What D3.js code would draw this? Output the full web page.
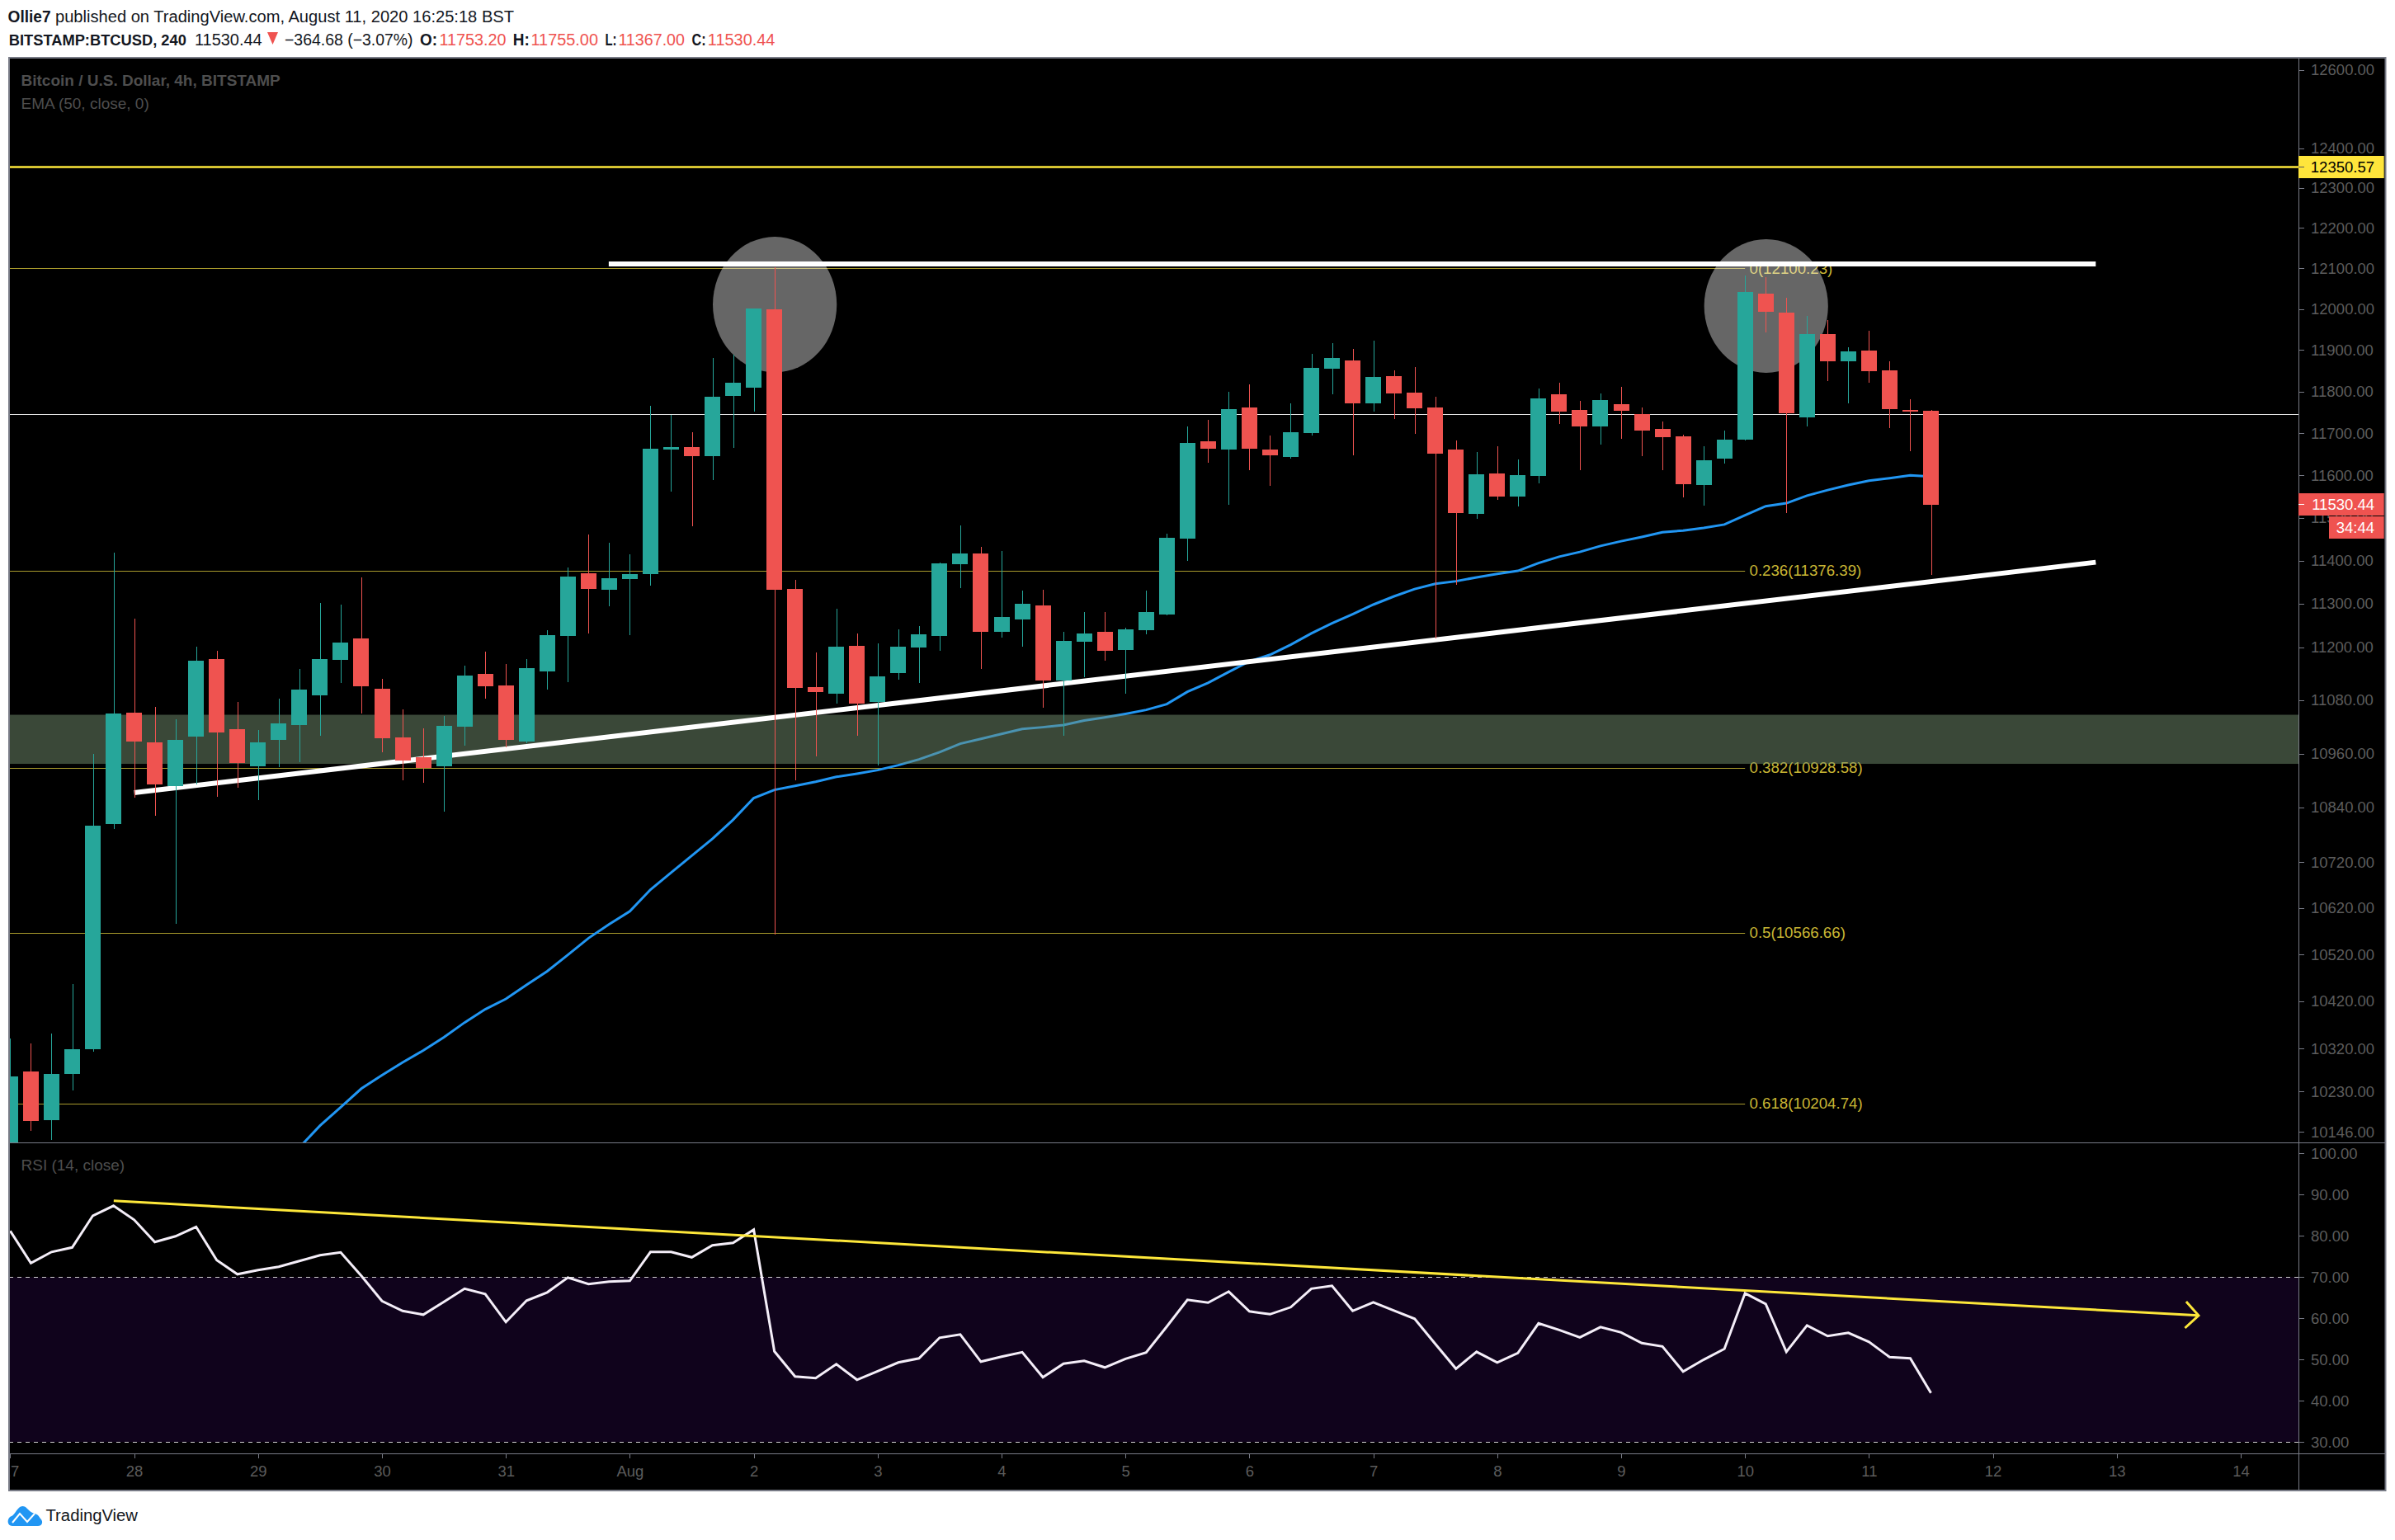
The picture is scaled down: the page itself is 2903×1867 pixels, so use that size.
<!DOCTYPE html>
<html lang="en">
<head>
    <meta charset="UTF-8">
    <title>BTCUSD 4h - TradingView</title>
    <style>
        html, body { margin: 0; padding: 0; background: #fff; overflow: hidden; }
        svg { display: block; }
        text { font-family: "Liberation Sans", sans-serif; }
        .axis text { fill: #5c5c5c; font-size: 18.5px; }
        .axis line, .axis path { stroke: #787b86; stroke-width: 1; shape-rendering: crispEdges; }
    </style>
</head>
<body>
    <svg width="2903" height="1867"></svg>
    <script src="https://d3js.org/d3.v7.min.js"></script>
    <script>
        // 4h candles, first bar is Jul 27 00:00
        const opens = [10110,10272,10171,10267,10319,10804,11052,10985,10888,10998,11173,11015,10932,10991,11024,11091,11172,11221,11106,10996,10952,10932,11021,11140,11114,10987,11146,11226,11371,11333,11357,11369,11661,11667,11646,11789,11809,12000,11334,11110,11095,11204,11075,11142,11200,11226,11392,11417,11236,11263,11297,11125,11213,11236,11194,11240,11276,11452,11681,11661,11762,11661,11644,11701,11855,11875,11771,11837,11797,11761,11660,11509,11605,11550,11599,11793,11755,11716,11770,11746,11710,11693,11577,11640,11685,12038,11991,11738,11939,11873,11899,11851,11755,11753.2];
        const highs = [10342,10331,10351,10457,10960,11419,11266,11065,11037,11202,11192,11075,11013,11084,11151,11302,11298,11361,11129,11060,11017,11045,11159,11190,11162,11173,11240,11384,11461,11442,11415,11766,11744,11703,11881,11889,12002,12103,11355,11189,11289,11232,11209,11242,11249,11396,11482,11432,11423,11331,11333,11236,11280,11281,11245,11331,11463,11716,11732,11799,11817,11695,11771,11891,11917,11903,11923,11851,11859,11787,11683,11656,11669,11638,11807,11821,11777,11795,11811,11762,11728,11697,11669,11707,12083,12079,12028,11983,11973,11907,11947,11873,11781,11755];
        const lows = [10090,10149,10130,10233,10314,10793,10861,10822,10585,10892,10864,10883,10857,10930,10941,11000,11118,11050,10963,10901,10895,10831,10978,11084,10974,10983,11104,11121,11232,11295,11228,11342,11561,11480,11589,11665,11752,10562,10901,10954,11073,11000,10934,11127,11119,11192,11336,11151,11223,11202,11062,11000,11132,11170,11095,11230,11274,11400,11630,11531,11612,11575,11640,11695,11793,11648,11752,11734,11699,11221,11344,11498,11542,11527,11581,11722,11612,11673,11687,11646,11612,11548,11529,11628,11683,11943,11511,11716,11825,11771,11821,11712,11657,11367];
        const closes = [10262,10168,10267,10319,10800,11049,10987,10892,10991,11170,11008,10939,10985,11028,11103,11173,11211,11112,10994,10945,10928,11022,11136,11112,10991,11153,11228,11363,11334,11359,11369,11663,11667,11646,11787,11821,12002,11333,11108,11099,11202,11073,11134,11202,11230,11394,11417,11236,11270,11300,11125,11215,11232,11192,11242,11280,11453,11677,11663,11757,11663,11648,11703,11857,11881,11771,11835,11795,11759,11652,11511,11603,11550,11601,11783,11752,11716,11779,11754,11707,11691,11579,11636,11685,12042,11994,11748,11939,11873,11897,11849,11757,11752,11530.44];

        // EMA 50, the visible part starts at bar 14
        const emaStart = 14;
        const emaValues = [10114,10159,10197,10236,10264,10291,10316,10344,10375,10403,10425,10455,10484,10519,10555,10585,10613,10660,10697,10734,10771,10813,10861,10879,10888,10897,10908,10915,10923,10934,10947,10963,10982,10993,11004,11015,11019,11024,11034,11041,11049,11058,11071,11099,11119,11144,11168,11183,11206,11232,11255,11276,11298,11317,11334,11346,11352,11361,11369,11376,11394,11409,11420,11434,11445,11455,11466,11470,11476,11484,11506,11527,11534,11552,11565,11577,11587,11593,11600,11597];

        // RSI 14
        const rsiValues = [81.2,73.4,76.1,77.2,84.9,87.3,83.9,78.5,79.9,82.2,74.1,70.7,71.7,72.5,73.9,75.3,76.0,70.3,64.2,61.8,60.9,64.0,67.2,65.9,59.1,64.3,66.3,69.9,68.3,68.9,69.1,76.1,76.1,74.8,77.7,78.3,81.5,52.0,45.9,45.5,48.9,45.1,47.2,49.3,50.3,55.3,56.1,49.5,50.7,51.8,45.7,49.0,49.7,48.1,50.2,51.7,58.0,64.5,63.8,66.5,61.7,61.0,62.7,67.2,67.9,61.8,63.9,61.9,59.9,53.8,47.8,51.9,49.3,51.6,58.8,57.2,55.4,57.9,56.6,54.0,53.2,47.1,50.0,52.6,66.1,63.5,51.9,58.3,55.7,56.5,54.3,50.6,50.3,41.9];

        // Axis ticks
        const priceTicks = [12600,12400,12300,12200,12100,12000,11900,11800,11700,11600,11500,11400,11300,11200,11080,10960,10840,10720,10620,10520,10420,10320,10230,10146];
        const rsiTicks = [100,90,80,70,60,50,40,30];
        const dayLabels = ['27','28','29','30','31','Aug','2','3','4','5','6','7','8','9','10','11','12','13','14'];

        // Fibonacci levels
        const fibNames = ['0','0.236','0.382','0.5','0.618'];
        const fibPrices = [12100.23,11376.39,10928.58,10566.66,10204.74];

        // Drawn levels and trendlines, in days from Jul 27 and price
        const resistancePrice = 12350.57;
        const horizontalPrice = 11745.7;
        const zonePrices = [11047,10937];
        const topLineDays = [4.83,16.83];
        const topLinePrices = [12111,12111];
        const riseLineDays = [1.0,16.83];
        const riseLinePrices = [10873,11396];
        const rsiLineDays = [0.835,17.66];
        const rsiLineValues = [88.5,60.7];
        const arrowDays = [17.56,17.66,17.55];
        const arrowValues = [64.06,60.7,57.66];
        const spotDays = [[5.67,6.67],[13.67,14.67]];
        const spotPrices = [[12178,11846],[12172,11845]];

        const green = '#26a69a';
        const red = '#ef5350';
        const frameColor = '#787b86';

        // Pane geometry
        const paneLeft = 11, paneRight = 2786, outerRight = 2891.5, paneTop = 71, paneBottom = 1385, axisTop = 1762, foot = 1807;

        const svg = d3.select('svg');

        const xScale = d3.scaleLinear().domain([0, 18]).range([12.4, 2716]);
        const yPrice = d3.scaleLog().domain([12600, 10146]).range([84.6, 1372.3]);
        const yRsi = d3.scaleLinear().domain([30, 100]).range([1748.3, 1398.3]);
        const barX = function(i) { return xScale(i / 6); };

        const defs = svg.append('defs');
        defs.append('clipPath').attr('id', 'clip-main').append('rect')
            .attr('x', paneLeft + 1).attr('y', paneTop).attr('width', paneRight - paneLeft - 1).attr('height', paneBottom - paneTop);
        defs.append('clipPath').attr('id', 'clip-rsi').append('rect')
            .attr('x', paneLeft + 1).attr('y', paneBottom).attr('width', paneRight - paneLeft - 1).attr('height', axisTop - paneBottom);
        defs.append('clipPath').attr('id', 'clip-time').append('rect')
            .attr('x', paneLeft + 1).attr('y', axisTop).attr('width', outerRight - paneLeft - 1).attr('height', foot - axisTop);

        // Header, squeezed to the widths of the narrow font in the original
        const header = svg.append('g').attr('fill', '#131722').style('font-size', '20px');
        header.append('text').attr('x', 9.6).attr('y', 27).attr('font-weight', 'bold')
            .attr('textLength', 52).attr('lengthAdjust', 'spacingAndGlyphs').text('Ollie7');
        header.append('text').attr('x', 67).attr('y', 27)
            .attr('textLength', 556).attr('lengthAdjust', 'spacingAndGlyphs')
            .text('published on TradingView.com, August 11, 2020 16:25:18 BST');

        const headTexts = ['BITSTAMP:BTCUSD, 240','11530.44','\u2212364.68 (\u22123.07%)','O:','11753.20','H:','11755.00','L:','11367.00','C:','11530.44'];
        const headX = [10.8,236,345,509,532.5,621.8,643.5,733.4,749.4,838.6,857.8];
        const headWidth = [215,81.6,155.6,21,81,20,81.5,14,80.6,17,81.6];
        const headSize = [18,19.5,19.5,19.5,19.5,19.5,19.5,19.5,19.5,19.5,19.5];
        const headKind = ['b','n','n','b','r','b','r','b','r','b','r'];
        header.selectAll('text.row2').data(headTexts).enter().append('text')
            .attr('class', 'row2')
            .attr('x', function(d, i) { return headX[i]; })
            .attr('y', 55)
            .attr('textLength', function(d, i) { return headWidth[i]; })
            .attr('lengthAdjust', 'spacingAndGlyphs')
            .attr('font-weight', function(d, i) { return headKind[i] === 'b' ? 'bold' : 'normal'; })
            .attr('fill', function(d, i) { return headKind[i] === 'r' ? red : '#131722'; })
            .style('font-size', function(d, i) { return headSize[i] + 'px'; })
            .text(function(d) { return d; });
        header.append('path').attr('d', 'M324,39 L337,39 L330.5,54 Z').attr('fill', red);

        // Chart frame
        svg.append('rect').attr('x', paneLeft).attr('y', paneTop - 1).attr('width', outerRight - paneLeft).attr('height', foot - paneTop + 1)
            .attr('fill', '#000').attr('stroke', frameColor).attr('stroke-width', 2);

        // Main pane
        const main = svg.append('g').attr('clip-path', 'url(#clip-main)');

        // Fib levels, they stop where the labels start
        main.selectAll('line.fib').data(fibPrices).enter().append('line')
            .attr('class', 'fib')
            .attr('x1', paneLeft).attr('x2', xScale(14))
            .attr('y1', function(d) { return Math.round(yPrice(d)) + 0.5; })
            .attr('y2', function(d) { return Math.round(yPrice(d)) + 0.5; })
            .attr('stroke', '#a89a2c').attr('stroke-width', 1);
        main.selectAll('text.fib').data(fibPrices).enter().append('text')
            .attr('class', 'fib')
            .attr('x', 2120.5)
            .attr('y', function(d) { return yPrice(d) + 6.5; })
            .attr('fill', '#c9b634').style('font-size', '18.7px')
            .text(function(d, i) { return fibNames[i] + '(' + d.toFixed(2) + ')'; });

        main.append('line').attr('x1', paneLeft).attr('x2', paneRight)
            .attr('y1', Math.round(yPrice(horizontalPrice)) + 0.5).attr('y2', Math.round(yPrice(horizontalPrice)) + 0.5)
            .attr('stroke', '#e4e4e4').attr('stroke-width', 1);
        main.append('line').attr('x1', paneLeft).attr('x2', paneRight)
            .attr('y1', yPrice(resistancePrice) - 1).attr('y2', yPrice(resistancePrice) - 1)
            .attr('stroke', '#fde73a').attr('stroke-width', 2.5);

        // Grey highlight circles
        main.selectAll('ellipse').data(spotDays).enter().append('ellipse')
            .attr('cx', function(d) { return (xScale(d[0]) + xScale(d[1])) / 2; })
            .attr('rx', function(d) { return (xScale(d[1]) - xScale(d[0])) / 2; })
            .attr('cy', function(d, i) { return (yPrice(spotPrices[i][0]) + yPrice(spotPrices[i][1])) / 2; })
            .attr('ry', function(d, i) { return (yPrice(spotPrices[i][1]) - yPrice(spotPrices[i][0])) / 2; })
            .attr('fill', '#fff').attr('fill-opacity', 0.4);

        // EMA
        const emaLine = d3.line()
            .x(function(d, i) { return barX(i + emaStart); })
            .y(function(d) { return yPrice(d); });
        main.append('path').datum(emaValues).attr('d', emaLine)
            .attr('fill', 'none').attr('stroke', '#2196f3').attr('stroke-width', 3);

        // Support zone goes over the EMA, which shows through it
        main.append('rect').attr('x', paneLeft).attr('width', paneRight - paneLeft)
            .attr('y', yPrice(zonePrices[0])).attr('height', yPrice(zonePrices[1]) - yPrice(zonePrices[0]))
            .attr('fill', '#739070').attr('fill-opacity', 0.5);

        // White trendlines
        main.append('line')
            .attr('x1', xScale(topLineDays[0])).attr('x2', xScale(topLineDays[1]))
            .attr('y1', yPrice(topLinePrices[0])).attr('y2', yPrice(topLinePrices[1]))
            .attr('stroke', '#fff').attr('stroke-width', 6);
        main.append('line')
            .attr('x1', xScale(riseLineDays[0])).attr('x2', xScale(riseLineDays[1]))
            .attr('y1', yPrice(riseLinePrices[0])).attr('y2', yPrice(riseLinePrices[1]))
            .attr('stroke', '#fff').attr('stroke-width', 6);

        // Candles
        const candles = main.selectAll('g.candle').data(d3.range(opens.length)).enter().append('g')
            .attr('class', 'candle')
            .attr('fill', function(i) { return closes[i] < opens[i] ? red : green; })
            .attr('stroke', function(i) { return closes[i] < opens[i] ? red : green; })
            .attr('shape-rendering', 'crispEdges');
        candles.append('line')
            .attr('x1', function(i) { return Math.round(barX(i)) + 0.5; })
            .attr('x2', function(i) { return Math.round(barX(i)) + 0.5; })
            .attr('y1', function(i) { return yPrice(highs[i]); })
            .attr('y2', function(i) { return yPrice(lows[i]); })
            .attr('stroke-width', 1);
        candles.append('rect')
            .attr('x', function(i) { return barX(i) - 9.5; })
            .attr('width', 19)
            .attr('y', function(i) { return yPrice(Math.max(opens[i], closes[i])); })
            .attr('height', function(i) { return Math.max(2, Math.abs(yPrice(opens[i]) - yPrice(closes[i]))); })
            .attr('stroke', 'none');

        // RSI pane
        const rsiPane = svg.append('g').attr('clip-path', 'url(#clip-rsi)');
        rsiPane.append('rect').attr('x', paneLeft).attr('width', paneRight - paneLeft)
            .attr('y', yRsi(70)).attr('height', yRsi(30) - yRsi(70))
            .attr('fill', '#10031c');
        rsiPane.selectAll('line.band').data([70, 30]).enter().append('line')
            .attr('class', 'band')
            .attr('x1', paneLeft).attr('x2', paneRight)
            .attr('y1', function(d) { return Math.round(yRsi(d)) + 0.5; })
            .attr('y2', function(d) { return Math.round(yRsi(d)) + 0.5; })
            .attr('stroke', '#d0d0d0').attr('stroke-dasharray', '5 5');

        const rsiLine = d3.line()
            .x(function(d, i) { return barX(i); })
            .y(function(d) { return yRsi(d); });
        rsiPane.append('path').datum(rsiValues).attr('d', rsiLine)
            .attr('fill', 'none').attr('stroke', '#f4eef8').attr('stroke-width', 3);

        rsiPane.append('line')
            .attr('x1', xScale(rsiLineDays[0])).attr('x2', xScale(rsiLineDays[1]))
            .attr('y1', yRsi(rsiLineValues[0])).attr('y2', yRsi(rsiLineValues[1]))
            .attr('stroke', '#fde73a').attr('stroke-width', 3);
        const arrowLine = d3.line()
            .x(function(d) { return xScale(d); })
            .y(function(d, i) { return yRsi(arrowValues[i]); });
        rsiPane.append('path').datum(arrowDays).attr('d', arrowLine)
            .attr('fill', 'none').attr('stroke', '#fde73a').attr('stroke-width', 3);

        // Pane separators and axis lines
        const seps = svg.append('g').attr('stroke', frameColor).attr('shape-rendering', 'crispEdges');
        seps.append('line').attr('x1', paneLeft).attr('x2', outerRight).attr('y1', paneBottom).attr('y2', paneBottom).attr('stroke-width', 1);
        seps.append('line').attr('x1', paneLeft).attr('x2', outerRight).attr('y1', axisTop).attr('y2', axisTop).attr('stroke-width', 1);
        seps.append('line').attr('x1', paneRight).attr('x2', paneRight).attr('y1', paneTop).attr('y2', foot).attr('stroke-width', 1);

        // Axes
        const priceAxis = d3.axisRight(yPrice).tickValues(priceTicks).tickSize(7).tickPadding(8)
            .tickFormat(function(d) { return d.toFixed(2); });
        svg.append('g').attr('class', 'axis').attr('transform', 'translate(' + paneRight + ',0)').call(priceAxis)
            .call(function(g) { g.select('.domain').remove(); });

        const rsiAxis = d3.axisRight(yRsi).tickValues(rsiTicks).tickSize(7).tickPadding(8)
            .tickFormat(function(d) { return d.toFixed(2); });
        svg.append('g').attr('class', 'axis').attr('transform', 'translate(' + paneRight + ',0)').call(rsiAxis)
            .call(function(g) { g.select('.domain').remove(); });

        const timeAxis = d3.axisBottom(xScale).tickValues(d3.range(dayLabels.length)).tickSize(6).tickPadding(9)
            .tickFormat(function(d) { return dayLabels[d]; });
        svg.append('g').attr('clip-path', 'url(#clip-time)')
            .append('g').attr('class', 'axis').attr('transform', 'translate(0,' + axisTop + ')').call(timeAxis)
            .call(function(g) { g.select('.domain').remove(); });

        // Price tags on the axis
        const tagTexts = ['12350.57','11530.44','34:44'];
        const tagFill = ['#ffe53b', red, red];
        const tagInk = ['#000','#fff','#fff'];
        const tagX = [paneRight, paneRight, 2823];
        const tagY = [189, 598, 626];
        svg.selectAll('rect.tag').data(tagTexts).enter().append('rect')
            .attr('class', 'tag')
            .attr('x', function(d, i) { return tagX[i]; })
            .attr('y', function(d, i) { return tagY[i]; })
            .attr('width', function(d, i) { return 2889.7 - tagX[i]; })
            .attr('height', 27)
            .attr('fill', function(d, i) { return tagFill[i]; });
        svg.selectAll('text.tag').data(tagTexts).enter().append('text')
            .attr('class', 'tag')
            .attr('x', 2878).attr('text-anchor', 'end')
            .attr('y', function(d, i) { return tagY[i] + 20; })
            .attr('fill', function(d, i) { return tagInk[i]; })
            .style('font-size', '18.5px')
            .text(function(d) { return d; });
        svg.selectAll('line.tagtick').data([0, 1]).enter().append('line')
            .attr('class', 'tagtick')
            .attr('x1', paneRight).attr('x2', paneRight + 7)
            .attr('y1', function(i) { return tagY[i] + 13.5; })
            .attr('y2', function(i) { return tagY[i] + 13.5; })
            .attr('stroke', function(i) { return i === 0 ? '#555' : '#fff'; });

        // Pane legends
        const legends = svg.append('g').attr('fill', '#4e4e4e').style('font-size', '19px');
        legends.append('text').attr('x', 25.5).attr('y', 104).attr('font-weight', 'bold').text('Bitcoin / U.S. Dollar, 4h, BITSTAMP');
        legends.append('text').attr('x', 25.5).attr('y', 132).text('EMA (50, close, 0)');
        legends.append('text').attr('x', 25.5).attr('y', 1419).text('RSI (14, close)');

        // TradingView mark
        const logo = svg.append('g');
        logo.append('path')
            .attr('d', 'M15,1850 C8,1850 8,1840 14,1838 C17,1837 19,1832 22,1829 C25,1825 30,1825 33,1829 C36,1832 38,1834 42,1835 C46,1836 47,1838 49,1841 C53,1845 51,1850 46,1850 Z')
            .attr('fill', '#2196f3');
        logo.append('path')
            .attr('d', 'M15,1846 L24,1835 L33,1845 L42,1835')
            .attr('fill', 'none').attr('stroke', '#fff').attr('stroke-width', 2);
        logo.append('text').attr('x', 55.5).attr('y', 1844).attr('fill', '#131722').style('font-size', '20px')
            .attr('textLength', 111.5).attr('lengthAdjust', 'spacingAndGlyphs').text('TradingView');
    </script>
</body>
</html>
